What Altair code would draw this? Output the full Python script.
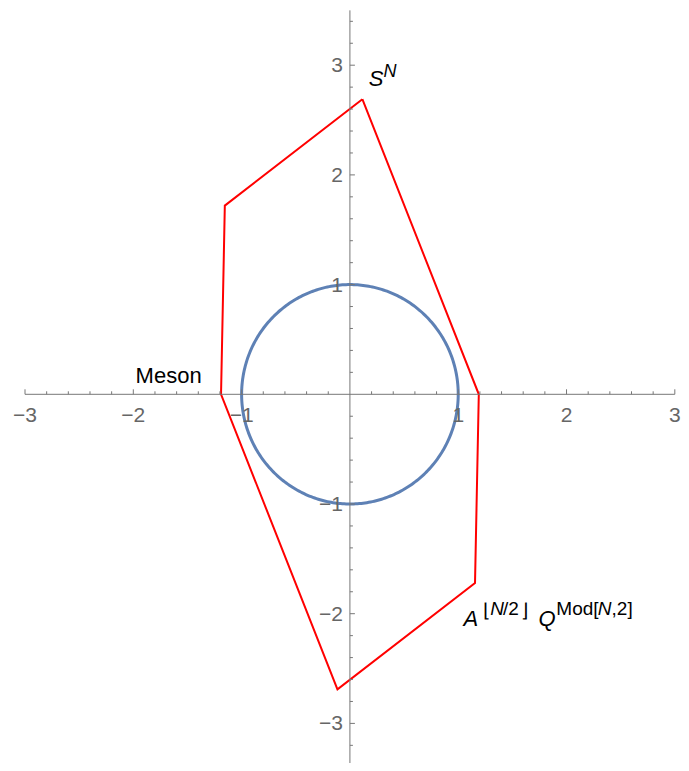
import altair as alt
import pandas as pd
import numpy as np

# ---- data -------------------------------------------------------------
poly_x = [0.115, 1.19, 1.155, -0.115, -1.19, -1.155]
poly_y = [2.69, 0.0, -1.72, -2.69, 0.0, 1.72]
circle_radius = [1.0]

x_major = [-3, -2, -1, 1, 2, 3]
y_major = [-3, -2, -1, 1, 2, 3]
x_major_labels = ["−3", "−2", "−1", "1", "2", "3"]
y_major_labels = ["−3", "−2", "−1", "1", "2", "3"]
x_minor = [round(v, 1) for v in np.arange(-3.0, 3.001, 0.2) if abs(v - round(v)) > 1e-6]
y_minor = [round(v, 1) for v in np.arange(-3.4, 3.401, 0.2) if abs(v - round(v)) > 1e-6]
x_axis_extent = [-3.0, 3.0]
y_axis_extent = [-3.5, 3.5]

# annotation pieces (text, x, y)
ann_text = ["S", "N", "Meson", "A", "⌊", "N", "/2", "⌋", "Q", "Mod[", "N", ",2]"]
ann_x = [0.173, 0.310, -1.979, 1.048, 1.231, 1.295, 1.413, 1.577, 1.742, 1.906, 2.289, 2.416]
ann_y = [2.810, 2.892, 0.103, -2.11, -2.03, -2.012, -2.012, -2.03, -2.11, -2.012, -2.012, -2.012]
ann_kind = ["s_base_it", "s_sup_it", "base", "base_it", "sup", "sup_it", "sup", "sup", "base_it", "sup", "sup_it", "sup"]

# ---- scales -----------------------------------------------------------
W, H = 673, 755
xs = alt.Scale(domain=[-3.157, 3.057], nice=False, zero=False)
ys = alt.Scale(domain=[-3.361, 3.5214], nice=False, zero=False)
FONT = "Liberation Sans"
AX = "#777777"
LAB = "#666666"

def X(f):
    return alt.X(f, type="quantitative", scale=xs, axis=None)

def Y(f):
    return alt.Y(f, type="quantitative", scale=ys, axis=None)

# polygon
pdf = pd.DataFrame({"x": poly_x + poly_x[:1], "y": poly_y + poly_y[:1]})
pdf["o"] = range(len(pdf))
poly = alt.Chart(pdf).mark_line(color="#ff0000", strokeWidth=2).encode(
    x=X("x"), y=Y("y"), order="o:Q")

# circle
t = np.linspace(0, 2 * np.pi, 361)
r = circle_radius[0]
cdf = pd.DataFrame({"x": r * np.cos(t), "y": r * np.sin(t), "o": range(len(t))})
circ = alt.Chart(cdf).mark_line(color="#5e81b5", strokeWidth=3).encode(
    x=X("x"), y=Y("y"), order="o:Q")

# axis lines
adf = pd.DataFrame({
    "x": [x_axis_extent[0], 0.0], "x2": [x_axis_extent[1], 0.0],
    "y": [0.0, y_axis_extent[0]], "y2": [0.0, y_axis_extent[1]],
})
axes = alt.Chart(adf).mark_rule(color=AX, strokeWidth=1).encode(
    x=X("x"), x2="x2", y=Y("y"), y2="y2")

# ticks
def xticks(vals, length):
    d = pd.DataFrame({"x": vals, "y": 0.0})
    return alt.Chart(d).mark_rule(color=AX, strokeWidth=1, y2Offset=-length).encode(
        x=X("x"), y=Y("y"), y2="y")

def yticks(vals, length):
    d = pd.DataFrame({"y": vals, "x": 0.0})
    return alt.Chart(d).mark_rule(color=AX, strokeWidth=1, x2Offset=length).encode(
        y=Y("y"), x=X("x"), x2="x")

xl = pd.DataFrame({"x": x_major, "y": 0.0, "t": x_major_labels})
xlab = alt.Chart(xl).mark_text(font=FONT, fontSize=21, color=LAB, baseline="top",
                               align="center", dy=11).encode(x=X("x"), y=Y("y"), text="t")
yl = pd.DataFrame({"y": y_major, "x": 0.0, "t": y_major_labels})
ylab = alt.Chart(yl).mark_text(font=FONT, fontSize=21, color=LAB, baseline="middle",
                               align="right", dx=-7, dy=1).encode(x=X("x"), y=Y("y"), text="t")

# annotations
ann = pd.DataFrame({"t": ann_text, "x": ann_x, "y": ann_y, "k": ann_kind})
styles = {
    "s_base_it": dict(fontSize=22, fontStyle="italic"),
    "s_sup_it": dict(fontSize=18, fontStyle="italic"),
    "base": dict(fontSize=22, fontStyle="normal"),
    "base_it": dict(fontSize=22, fontStyle="italic"),
    "sup": dict(fontSize=19, fontStyle="normal"),
    "sup_it": dict(fontSize=19, fontStyle="italic"),
}
ann_layers = []
for k, st in styles.items():
    sub = ann[ann["k"] == k]
    ann_layers.append(
        alt.Chart(sub).mark_text(font=FONT, color="#000000", align="left",
                                 baseline="alphabetic", **st).encode(
            x=X("x"), y=Y("y"), text="t"))

chart = alt.layer(
    poly, circ, axes,
    xticks(x_major, 5), xticks(x_minor, 3),
    yticks(y_major, 5), yticks(y_minor, 3),
    xlab, ylab, *ann_layers,
).properties(
    width=W, height=H, padding=0, autosize=alt.AutoSizeParams(type="none"),
    background="white",
).configure_view(stroke=None)

chart.save("out.html", embed_options={"renderer": "svg", "actions": False})
